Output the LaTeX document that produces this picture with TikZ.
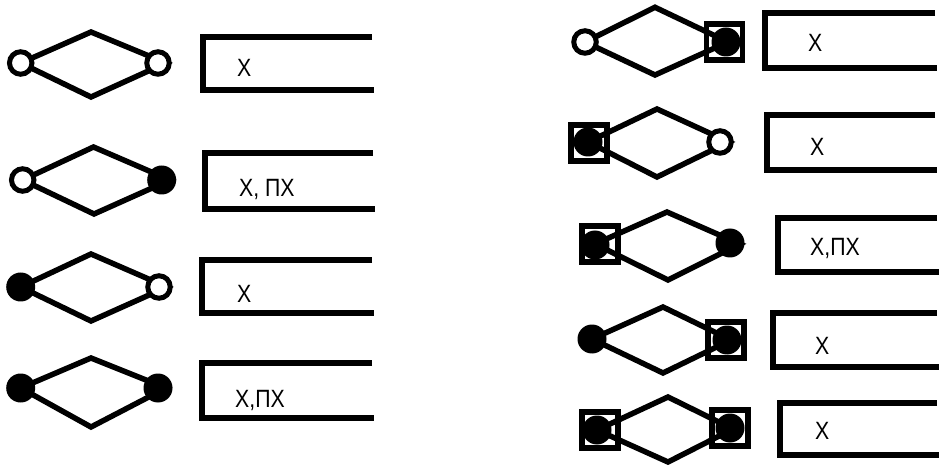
\documentclass[tikz,border=0pt]{standalone}
\usepackage{fontspec}
\setmainfont{Liberation Sans}
\newfontfamily\lblfont[FakeStretch=0.85]{Liberation Sans}
\begin{document}
\begin{tikzpicture}[x=1pt,y=-1pt,
  edge/.style={line width=5.5pt, line join=miter},
  opendot/.style={circle, draw, fill=white, line width=5pt, minimum size=22.5pt, inner sep=0pt},
  fulldot/.style={circle, fill=black, minimum size=29pt, inner sep=0pt},
  frame/.style={rectangle, draw, line width=5.5pt, minimum size=36pt, inner sep=0pt},
  bracket/.style={line width=6pt, line join=miter},
  lbl/.style={anchor=west, inner sep=0pt, text height=18pt, text depth=0pt,
    font=\lblfont\fontsize{25}{29}\selectfont}]
\useasboundingbox (0,0) rectangle (943,465);

% ---------- left column ----------
% row 1: open / open
\coordinate (t1) at (91,32); \coordinate (b1) at (91,97); \coordinate (r1) at (166,63);
\draw[edge] (20.7,63) -- (t1) -- (r1) -- (b1) -- cycle;
\node[opendot] (l1a) at (20.7,63) {};
\node[opendot] (l1b) at (158,63) {};
\draw[bracket] (372,37.5) -| (202.5,90.3) -- (374,90.3);
\node[lbl] (x1) at (237,67.5) {Х};

% row 2: open / filled
\coordinate (t2) at (93.5,147); \coordinate (b2) at (94,214); \coordinate (r2) at (170,180);
\draw[edge] (22.7,180) -- (t2) -- (r2) -- (b2) -- cycle;
\node[opendot] (l2a) at (22.7,180) {};
\node[fulldot] (l2b) at (161.7,180) {};
\draw[bracket] (373,153) -| (205,209) -- (375,209);
\node[lbl] (x2) at (239,188) {Х, ПХ};

% row 3: filled / open
\coordinate (t3) at (91,254); \coordinate (b3) at (91,321); \coordinate (r3) at (167,287);
\draw[edge] (20.7,287) -- (t3) -- (r3) -- (b3) -- cycle;
\node[fulldot] (l3a) at (20.7,287) {};
\node[opendot] (l3b) at (159,287) {};
\draw[bracket] (372,260) -| (202,313) -- (374,313);
\node[lbl] (x3) at (237,293) {Х};

% row 4: filled / filled
\coordinate (t4) at (91,358); \coordinate (b4) at (91,427); \coordinate (r4) at (166,388);
\draw[edge] (20.7,388) -- (t4) -- (r4) -- (b4) -- cycle;
\node[fulldot] (l4a) at (20.7,388) {};
\node[fulldot] (l4b) at (158,388) {};
\draw[bracket] (372,363) -| (202,418) -- (374,418);
\node[lbl] (x4) at (235,398) {Х,ПХ};

% ---------- right column ----------
% row 1: open / framed filled
\coordinate (t5) at (655,7.3); \coordinate (b5) at (655,75); \coordinate (r5) at (728,42);
\draw[edge] (585,42) -- (t5) -- (r5) -- (b5) -- cycle;
\node[opendot] (r1a) at (585,42) {};
\node[frame] (s1) at (724.5,42) {};
\node[fulldot] (r1b) at (726,42) {};
\draw[bracket] (935,13.3) -| (765,68.3) -- (937,68.3);
\node[lbl] (x5) at (808,43) {Х};

% row 2: framed filled / open
\coordinate (t6) at (657,109); \coordinate (b6) at (657,177); \coordinate (r6) at (729,142);
\draw[edge] (588,142) -- (t6) -- (r6) -- (b6) -- cycle;
\node[frame] (s2) at (589,143) {};
\node[fulldot] (r2a) at (588,142) {};
\node[opendot] (r2b) at (720,142) {};
\draw[bracket] (935,115) -| (767,170) -- (937,170);
\node[lbl] (x6) at (810,147) {Х};

% row 3: framed filled / filled
\coordinate (t7) at (667,212); \coordinate (b7) at (668,280); \coordinate (r7) at (740,244);
\draw[edge] (595,244) -- (t7) -- (r7) -- (b7) -- cycle;
\node[frame] (s3) at (600,244) {};
\node[fulldot] (r3a) at (595,245) {};
\node[fulldot] (r3b) at (730,243) {};
\draw[bracket] (937,218) -| (778,272) -- (939,272);
\node[lbl] (x7) at (810,247) {Х,ПХ};

% row 4: filled / framed filled
\coordinate (t8) at (663,307); \coordinate (b8) at (663,373); \coordinate (r8) at (731,340);
\draw[edge] (592,339) -- (t8) -- (r8) -- (b8) -- cycle;
\node[fulldot] (r4a) at (592,339) {};
\node[frame] (s4) at (726,340) {};
\node[fulldot] (r4b) at (727,340) {};
\draw[bracket] (937,313) -| (773,367) -- (939,367);
\node[lbl] (x8) at (815,345) {Х};

% row 5: framed filled / framed filled
\coordinate (t9) at (668,397); \coordinate (b9) at (668,462); \coordinate (r9) at (733,429);
\draw[edge] (597,430) -- (t9) -- (r9) -- (b9) -- cycle;
\node[frame] (s5) at (600,430) {};
\node[fulldot] (r5a) at (597,430) {};
\node[frame] (s6) at (730,428) {};
\node[fulldot] (r5b) at (730,428) {};
\draw[bracket] (937,403) -| (780,455) -- (939,455);
\node[lbl] (x9) at (815,430) {Х};
\end{tikzpicture}
\end{document}
